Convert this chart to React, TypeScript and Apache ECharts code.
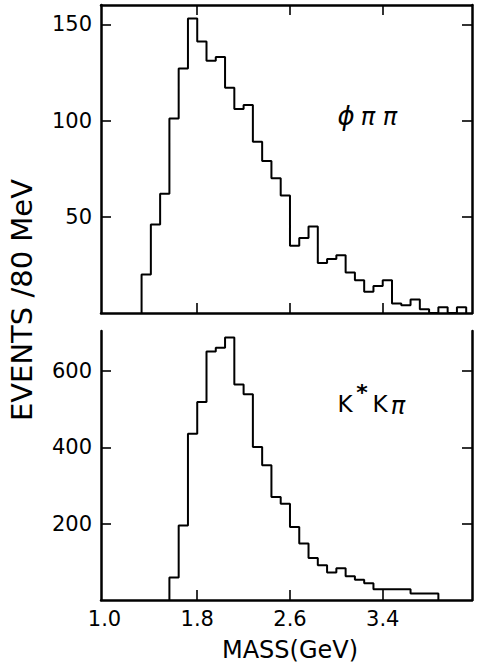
import React, { useEffect, useRef } from "react";
import * as echarts from "echarts";

// Histogram bin low edges (GeV) and event counts per 80 MeV bin
const BIN_WIDTH = 0.08;

const phiMass = [
  1.32, 1.40, 1.48, 1.56, 1.64, 1.72, 1.80, 1.88, 1.96, 2.04, 2.12, 2.20,
  2.28, 2.36, 2.44, 2.52, 2.60, 2.68, 2.76, 2.84, 2.92, 3.00, 3.08, 3.16,
  3.24, 3.32, 3.40, 3.48, 3.56, 3.64, 3.72, 3.80, 3.88, 3.96, 4.04,
];
const phiCounts = [
  20, 46, 62, 101, 127, 153, 141, 131, 133, 117, 106, 108,
  89, 79, 70, 61, 35, 39, 45, 26, 28, 30, 21, 17,
  11, 14, 17, 5, 4, 7, 2, 0, 3, 0, 3,
];

const kstarMass = [
  1.56, 1.64, 1.72, 1.80, 1.88, 1.96, 2.04, 2.12, 2.20, 2.28, 2.36, 2.44,
  2.52, 2.60, 2.68, 2.76, 2.84, 2.92, 3.00, 3.08, 3.16, 3.24, 3.32, 3.40,
  3.48, 3.56, 3.64, 3.72, 3.80,
];
const kstarCounts = [
  59, 195, 436, 519, 651, 661, 688, 565, 539, 401, 353, 270,
  252, 191, 148, 110, 91, 72, 83, 62, 53, 44, 28, 28,
  28, 28, 17, 17, 17,
];

const massLabels = [1.0, 1.8, 2.6, 3.4];
const massTicks = [1.8, 2.6, 3.4];
const phiYTicks = [50, 100, 150];
const kstarYTicks = [200, 400, 600];

const FONT = "DejaVu Sans";

function histPoints(edges: number[], counts: number[]): number[][] {
  const pts: number[][] = [[edges[0], 0]];
  for (let i = 0; i < edges.length; i++) pts.push([edges[i], counts[i]]);
  const end = edges[edges.length - 1] + BIN_WIDTH;
  pts.push([end, counts[counts.length - 1]]);
  pts.push([end, 0]);
  return pts;
}

const lineStyle = { color: "#000", width: 2.5 };
const tickStyle = { color: "#000", width: 1.6 };

function xAx(gridIndex: number, position: string, labels: boolean, ticks: boolean) {
  return {
    type: "value",
    gridIndex,
    position,
    min: 0.97,
    max: 4.17,
    axisLine: { show: true, onZero: false, lineStyle },
    axisTick: { show: ticks, inside: true, length: 10, customValues: massTicks, lineStyle: tickStyle },
    axisLabel: {
      show: labels,
      customValues: massLabels,
      formatter: (v: number) => v.toFixed(1),
      color: "#000",
      fontFamily: FONT,
      fontSize: 21,
      margin: 8,
    },
    splitLine: { show: false },
  };
}

function yAx(gridIndex: number, position: string, max: number, ticks: number[], labels: boolean) {
  return {
    type: "value",
    gridIndex,
    position,
    min: 0,
    max,
    axisLine: { show: true, onZero: false, lineStyle },
    axisTick: { show: true, inside: true, length: 10, customValues: ticks, lineStyle: tickStyle },
    axisLabel: {
      show: labels,
      customValues: ticks,
      color: "#000",
      fontFamily: FONT,
      fontSize: 21,
      margin: 9,
    },
    splitLine: { show: false },
  };
}

export default function App() {
  const ref = useRef<HTMLDivElement>(null);
  useEffect(() => {
    if (!ref.current) return;
    const chart = echarts.init(ref.current, null, { renderer: "svg" });
    chart.setOption({
      animation: false,
      backgroundColor: "#fff",
      grid: [
        { left: 101, right: 5, top: 5, height: 308 },
        { left: 101, right: 5, top: 331, height: 269 },
      ],
      xAxis: [
        xAx(0, "bottom", false, true),
        xAx(0, "top", false, true),
        xAx(1, "bottom", true, true),
      ],
      yAxis: [
        yAx(0, "left", 160, phiYTicks, true),
        yAx(0, "right", 160, phiYTicks, false),
        yAx(1, "left", 705, kstarYTicks, true),
        yAx(1, "right", 705, kstarYTicks, false),
      ],
      series: [
        {
          type: "line",
          name: "φππ",
          xAxisIndex: 0,
          yAxisIndex: 0,
          step: "end",
          symbol: "none",
          lineStyle: { color: "#000", width: 2 },
          data: histPoints(phiMass, phiCounts),
          z: 1,
        },
        {
          type: "line",
          name: "K*Kπ",
          xAxisIndex: 2,
          yAxisIndex: 2,
          step: "end",
          symbol: "none",
          lineStyle: { color: "#000", width: 2 },
          data: histPoints(kstarMass, kstarCounts),
          z: 1,
        },
      ],
      graphic: [
        {
          type: "text",
          x: 22,
          y: 300,
          rotation: Math.PI / 2,
          style: {
            text: "EVENTS /80 MeV",
            fill: "#000",
            font: `29px "${FONT}"`,
            align: "center",
            verticalAlign: "middle",
          },
        },
        {
          type: "text",
          x: 290,
          y: 650,
          style: {
            text: "MASS(GeV)",
            fill: "#000",
            font: `24px "${FONT}"`,
            align: "center",
            verticalAlign: "middle",
          },
        },
        { type: "text", x: 346, y: 116, style: { text: "ϕ", fill: "#000", font: `italic 26px "${FONT}"`, align: "center", verticalAlign: "middle" } },
        { type: "text", x: 368, y: 117, style: { text: "π", fill: "#000", font: `italic 24px "${FONT}"`, align: "center", verticalAlign: "middle" } },
        { type: "text", x: 390, y: 117, style: { text: "π", fill: "#000", font: `italic 24px "${FONT}"`, align: "center", verticalAlign: "middle" } },
        { type: "text", x: 345, y: 404, style: { text: "K", fill: "#000", font: `23px "${FONT}"`, align: "center", verticalAlign: "middle" } },
        { type: "text", x: 362, y: 392, style: { text: "*", fill: "#000", font: `bold 22px "${FONT}"`, align: "center", verticalAlign: "middle" } },
        { type: "text", x: 380, y: 404, style: { text: "K", fill: "#000", font: `23px "${FONT}"`, align: "center", verticalAlign: "middle" } },
        { type: "text", x: 398, y: 406, style: { text: "π", fill: "#000", font: `italic 24px "${FONT}"`, align: "center", verticalAlign: "middle" } },
      ],
    });
    return () => chart.dispose();
  }, []);
  return (
    <div
      ref={ref}
      style={{ position: "fixed", left: 0, top: 0, width: 477, height: 667, background: "#fff" }}
    />
  );
}
